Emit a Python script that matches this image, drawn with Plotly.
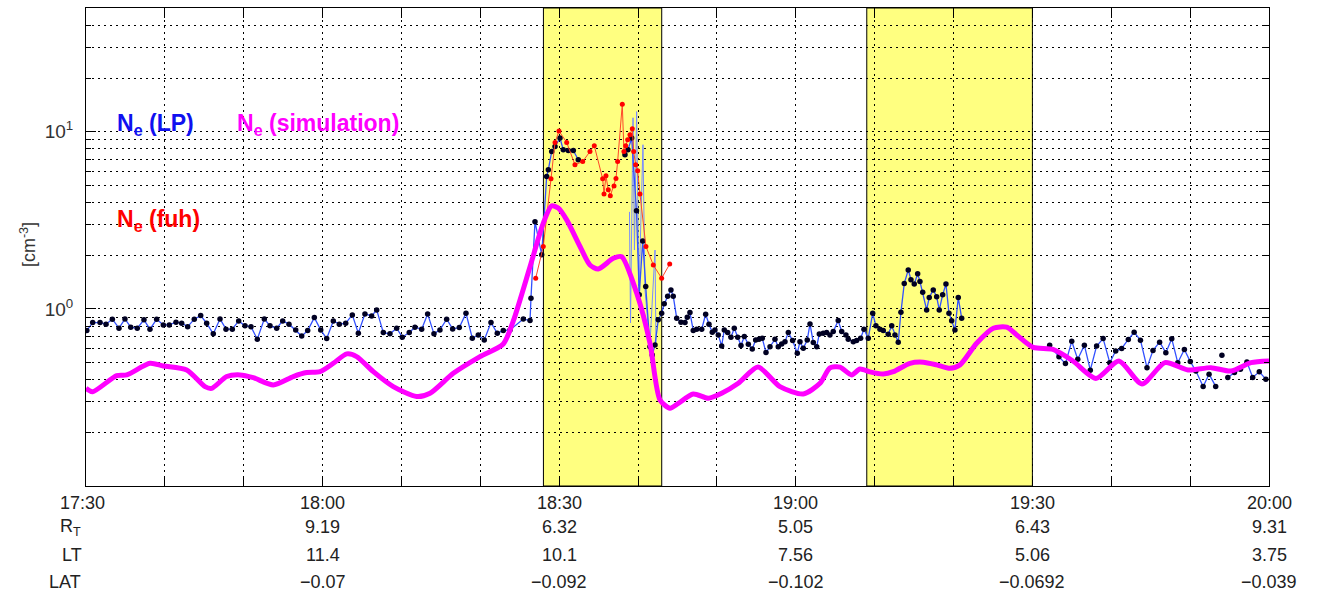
import numpy as np
import pandas as pd
import plotly.graph_objects as go

# ---------------- data (time = minutes after 17:30) ----------------
SIM_T = [0, 0.85, 3.89, 5.16, 8.11, 9.80, 12.77, 15.09, 15.94, 17.84,
         19.53, 21.21, 23.75, 26.28, 27.98, 29.67, 31.36, 33.06, 34.32, 36.43,
         38.96, 41.93, 43.62, 46.57, 49.96, 52.91, 54.18, 56.30, 57.98, 59.05,
         59.88, 60.95, 62.64, 63.90, 64.95, 66.86, 67.92, 69.82, 71.51, 72.78,
         74.05, 75.10, 77.00, 78.90, 80.60, 82.71, 85.20, 87.99, 90.95, 93.07,
         94.33, 95.60, 97.08, 98.14, 99.40, 101.09, 102.36, 104.48, 106.16, 107.86,
         109.55, 110.82, 112.93, 115.04, 116.74, 118.01, 120.11, 122.61, 125.14, 128.06,
         130.97, 133.89, 136.81, 139.72, 142.64, 145.17, 147.71, 150]
SIM_V = [0.356, 0.341, 0.420, 0.424, 0.493, 0.476, 0.452, 0.364, 0.356, 0.415,
         0.424, 0.409, 0.372, 0.415, 0.437, 0.442, 0.493, 0.557, 0.538, 0.442,
         0.364, 0.320, 0.334, 0.433, 0.538, 0.634, 0.855, 1.73, 3.05, 3.82,
         3.71, 3.18, 2.25, 1.77, 1.68, 1.93, 1.97, 1.23, 0.640, 0.306,
         0.275, 0.293, 0.331, 0.313, 0.334, 0.380, 0.470, 0.364, 0.331, 0.380,
         0.464, 0.469, 0.424, 0.458, 0.441, 0.429, 0.442, 0.493, 0.500, 0.483,
         0.462, 0.483, 0.640, 0.778, 0.788, 0.713, 0.606, 0.590, 0.508, 0.405,
         0.508, 0.377, 0.497, 0.452, 0.466, 0.446, 0.497, 0.508]

LP_T1 = [0.1, 0.85, 1.78, 2.54, 3.34, 4.18, 4.94, 5.67, 6.50, 7.35,
         8.11, 8.96, 9.80, 10.56, 11.41, 12.13, 12.89, 13.73, 14.54, 15.30,
         16.14, 16.99, 17.75, 18.55, 19.36, 20.16, 20.92, 21.72, 22.61, 23.33,
         24.18, 24.94, 25.74, 26.59, 27.35, 28.11, 28.95, 29.76, 30.52, 31.36,
         32.12, 32.93, 33.77, 34.53, 35.37, 36.22, 36.86, 37.70, 38.54, 39.39,
         40.10, 40.99, 41.71, 42.56, 43.32, 44.12, 44.88, 45.73, 46.49, 47.33,
         48.18, 48.98, 49.74, 50.50, 51.35, 52.15, 52.91, 53.76, 55.45, 56.30,
         56.42, 56.93, 57.78, 58.41, 58.62, 59.05, 59.47, 60.10, 60.52, 61.15,
         61.79, 62.42]
LP_V1 = [0.754, 0.837, 0.837, 0.820, 0.875, 0.778, 0.878, 0.788, 0.778, 0.867,
         0.768, 0.875, 0.812, 0.812, 0.841, 0.830, 0.794, 0.875, 0.917, 0.830,
         0.723, 0.878, 0.768, 0.768, 0.855, 0.802, 0.794, 0.674, 0.878, 0.802,
         0.778, 0.855, 0.820, 0.761, 0.703, 0.754, 0.893, 0.761, 0.680, 0.855,
         0.820, 0.830, 0.925, 0.729, 0.937, 0.913, 0.987, 0.735, 0.723, 0.778,
         0.692, 0.735, 0.788, 0.768, 0.937, 0.723, 0.761, 0.875, 0.771, 0.784,
         0.946, 0.683, 0.713, 0.668, 0.837, 0.729, 0.754, 0.761, 0.878, 0.859,
         1.15, 3.11, 2.02, 5.59, 6.10, 7.74, 8.26, 9.21, 7.91, 7.84,
         7.84, 6.95]

LP_T2 = [68.34, 68.72, 69.19, 69.80, 70.15, 70.59, 70.97, 71.51, 71.80, 72.15,
         72.56, 72.99, 73.32, 73.75, 74.17, 74.46, 74.90, 75.44, 75.95, 76.24,
         76.58, 77.00, 77.43, 78.07, 78.57, 78.99, 79.41, 79.75, 80.17, 80.60,
         80.93, 81.36, 81.78, 82.20, 82.63, 83.05, 83.47, 83.98, 84.48, 84.91,
         85.33, 85.75, 86.22, 86.73, 87.36, 87.78, 88.21, 88.63, 89.05, 89.60,
         90.19, 90.53, 90.95, 91.45, 91.80, 92.22, 92.65, 92.98, 93.48, 93.91,
         94.33, 94.75, 95.38, 95.82, 96.36, 96.65, 97.29, 97.71, 98.22, 98.64,
         99.19, 99.75, 100.16, 100.67, 101.09, 101.72, 102.16, 102.57, 102.99, 103.33,
         103.75, 104.26, 104.60, 105.02, 105.45, 105.74, 106.09, 106.59, 106.92, 107.43,
         107.86, 108.19, 108.62, 109.04, 109.42, 109.76, 110.18, 110.60, 111.03]
LP_V2 = [7.41, 7.91, 9.21, 3.58, 1.20, 2.42, 1.34, 0.612, 0.550, 0.626,
         0.867, 0.946, 1.07, 1.18, 1.28, 1.18, 0.886, 0.841, 0.837, 0.898,
         0.953, 0.754, 0.768, 0.768, 0.933, 0.820, 0.738, 0.761, 0.713, 0.618,
         0.761, 0.735, 0.692, 0.778, 0.692, 0.621, 0.698, 0.632, 0.594, 0.668,
         0.674, 0.683, 0.567, 0.612, 0.674, 0.612, 0.634, 0.653, 0.735, 0.662,
         0.562, 0.653, 0.600, 0.668, 0.823, 0.645, 0.612, 0.722, 0.729, 0.735,
         0.713, 0.745, 0.859, 0.745, 0.713, 0.674, 0.653, 0.662, 0.683, 0.768,
         0.683, 0.946, 0.802, 0.768, 0.754, 0.719, 0.802, 0.713, 0.649, 0.958,
         1.39, 1.66, 1.46, 1.38, 1.58, 1.43, 1.24, 0.987, 1.16, 1.28,
         1.17, 0.987, 1.20, 1.38, 0.946, 0.856, 0.761, 1.16, 0.886]

LP_T3 = [122.19, 123.37, 124.19, 124.99, 125.75, 126.59, 127.34, 128.14, 128.97, 129.81,
         130.56, 131.32, 132.16, 132.90, 133.70, 134.53, 135.29, 136.13, 136.92, 137.67,
         138.43, 139.27, 140.02, 140.73, 141.65, 142.40, 143.24]
LP_V3 = [0.624, 0.536, 0.491, 0.657, 0.519, 0.624, 0.451, 0.617, 0.680, 0.497,
         0.578, 0.598, 0.672, 0.738, 0.666, 0.466, 0.583, 0.649, 0.566, 0.678,
         0.497, 0.590, 0.504, 0.446, 0.365, 0.428, 0.365]
LP_T4 = [144.03]
LP_V4 = [0.547]
LP_T5 = [144.78, 145.62, 146.38, 147.20, 147.93, 148.77, 149.60]
LP_V5 = [0.410, 0.437, 0.456, 0.502, 0.410, 0.441, 0.401]

RAW_T = [68.91, 69.04, 69.36, 69.54, 69.82, 70.11, 70.62, 70.88, 71.50, 72.15, 72.27]
RAW_V = [3.53, 0.834, 12.0, 2.15, 13.0, 1.23, 8.45, 1.28, 0.62, 2.15, 0.618]

FUH_T = [57.02, 57.98, 58.96, 59.47, 59.97, 60.95, 62.00, 62.98, 63.90, 64.45,
         65.51, 65.68, 65.93, 66.22, 66.48, 66.95, 67.20, 67.41, 68.00, 68.21,
         68.43, 68.68, 68.97, 69.27, 69.44, 69.70, 69.95, 70.24, 71.00, 71.93,
         72.99, 74.01]
FUH_V = [1.49, 2.25, 5.43, 8.71, 10.1, 8.71, 6.51, 6.79, 7.74, 8.34,
         5.43, 4.46, 5.64, 4.70, 4.35, 4.95, 5.45, 6.79, 14.3, 7.74,
         8.34, 9.01, 9.62, 10.4, 7.74, 6.51, 6.02, 4.46, 2.25, 1.77,
         1.49, 1.79]

SHADE_T = [(58, 73), (99, 120)]

TICK_MIN = [0, 30, 60, 90, 120, 150]
TIME_LBL = ['17:30', '18:00', '18:30', '19:00', '19:30', '20:00']
RT_LBL = ['9.19', '6.32', '5.05', '6.43', '9.31']
LT_LBL = ['11.4', '10.1', '7.56', '5.06', '3.75']
LAT_LBL = ['\u22120.07', '\u22120.092', '\u22120.102', '\u22120.0692', '\u22120.039']

# ---------------- helpers ----------------
BASE = pd.Timestamp('2000-01-01 17:30:00')


def tt(mins):
    return [None if m is None else (BASE + pd.Timedelta(minutes=m)) for m in mins]


lp_t = LP_T1 + [65.0] + LP_T2 + [116.0] + LP_T3 + [143.6] + LP_T4 + [144.4] + LP_T5
lp_v = LP_V1 + [None] + LP_V2 + [None] + LP_V3 + [None] + LP_V4 + [None] + LP_V5

FONT = 'Liberation Sans, Arial, sans-serif'

fig = go.Figure()
fig.add_trace(go.Scatter(x=tt(RAW_T), y=RAW_V, mode='lines',
                         line=dict(color='rgb(120,140,255)', width=1), showlegend=False))
fig.add_trace(go.Scatter(x=tt(lp_t), y=lp_v, mode='lines+markers', connectgaps=False,
                         line=dict(color='rgb(50,80,255)', width=1.3),
                         marker=dict(color='#000022', size=5.5), showlegend=False))
fig.add_trace(go.Scatter(x=tt(FUH_T), y=FUH_V, mode='lines+markers',
                         line=dict(color='rgb(255,70,40)', width=1),
                         marker=dict(color='red', size=5), showlegend=False))
fig.add_trace(go.Scatter(x=tt(SIM_T), y=SIM_V, mode='lines',
                         line=dict(color='#ff00ff', width=5, shape='spline', smoothing=0.7),
                         showlegend=False))

for a, b in SHADE_T:
    fig.add_shape(type='rect', xref='x', yref='paper',
                  x0=BASE + pd.Timedelta(minutes=a), x1=BASE + pd.Timedelta(minutes=b),
                  y0=0, y1=1, fillcolor='#ffff80', line=dict(color='black', width=1),
                  layer='below')

GRID = dict(showgrid=True, gridcolor='black', gridwidth=1, griddash='2px,4px')

fig.update_xaxes(type='date', range=[BASE, BASE + pd.Timedelta(minutes=150)],
                 tick0=BASE, dtick=600000, ticks='inside', ticklen=10, tickcolor='black',
                 showticklabels=False, showline=True, linecolor='black', linewidth=1,
                 mirror='allticks', zeroline=False, **GRID)

minor_vals = [0.2, 0.3, 0.4, 0.5, 0.6, 0.7, 0.8, 0.9,
              2, 3, 4, 5, 6, 7, 8, 9, 20, 30, 40]
fig.update_yaxes(type='log', range=[-1, np.log10(50)], tickmode='array',
                 tickvals=[1, 10], ticktext=['10<sup>0</sup>', '10<sup>1</sup>'],
                 ticks='inside', ticklen=10, tickcolor='black',
                 tickfont=dict(size=19, color='#333', family=FONT),
                 showline=True, linecolor='black', linewidth=1, mirror='allticks',
                 zeroline=False, ticklabelstandoff=8,
                 minor=dict(tickmode='array', tickvals=minor_vals, ticks='inside',
                            ticklen=5, tickcolor='black', **GRID),
                 **GRID)

ann = []
ROW_Y = [-0.0356, -0.0858, -0.1444, -0.2008]
TXT = dict(size=18, color='#222', family=FONT)
for i, m in enumerate(TICK_MIN):
    xv = BASE + pd.Timedelta(minutes=m)
    if i == 0:
        ann.append(dict(x=xv, y=ROW_Y[0], text=TIME_LBL[0], xshift=-4))
        ann.append(dict(x=xv, y=ROW_Y[1], text='R<sub>T</sub>', xshift=-16))
        ann.append(dict(x=xv, y=ROW_Y[2], text='LT', xshift=-14))
        ann.append(dict(x=xv, y=ROW_Y[3], text='LAT', xshift=-21))
    else:
        ann.append(dict(x=xv, y=ROW_Y[0], text=TIME_LBL[i]))
        ann.append(dict(x=xv, y=ROW_Y[1], text=RT_LBL[i - 1]))
        ann.append(dict(x=xv, y=ROW_Y[2], text=LT_LBL[i - 1]))
        ann.append(dict(x=xv, y=ROW_Y[3], text=LAT_LBL[i - 1]))
for a in ann:
    a.update(xref='x', yref='paper', showarrow=False, xanchor='center', yanchor='middle',
             font=TXT)

LEG = dict(size=23, family=FONT)
ann += [
    dict(x=0, xref='paper', xshift=29, y=0.757, yref='paper', xanchor='left', yanchor='middle',
         text='<b>N<sub>e</sub> (LP)</b>', showarrow=False, font=dict(color='#1010f0', **LEG)),
    dict(x=0, xref='paper', xshift=149, y=0.757, yref='paper', xanchor='left', yanchor='middle',
         text='<b>N<sub>e</sub> (simulation)</b>', showarrow=False, font=dict(color='#ff00ff', **LEG)),
    dict(x=0, xref='paper', xshift=29, y=0.556, yref='paper', xanchor='left', yanchor='middle',
         text='<b>N<sub>e</sub> (fuh)</b>', showarrow=False, font=dict(color='#ff0000', **LEG)),
    dict(x=0, xref='paper', xshift=-58, y=0.504, yref='paper', xanchor='center', yanchor='middle',
         text='[cm<sup>-3</sup>]', textangle=-90, showarrow=False,
         font=dict(size=18, color='#333', family=FONT)),
]

fig.update_layout(width=1319, height=593, margin=dict(l=86, r=50, t=8, b=107),
                  paper_bgcolor='white', plot_bgcolor='white', annotations=ann,
                  font=dict(family=FONT), showlegend=False)

fig.write_html('out.html')
